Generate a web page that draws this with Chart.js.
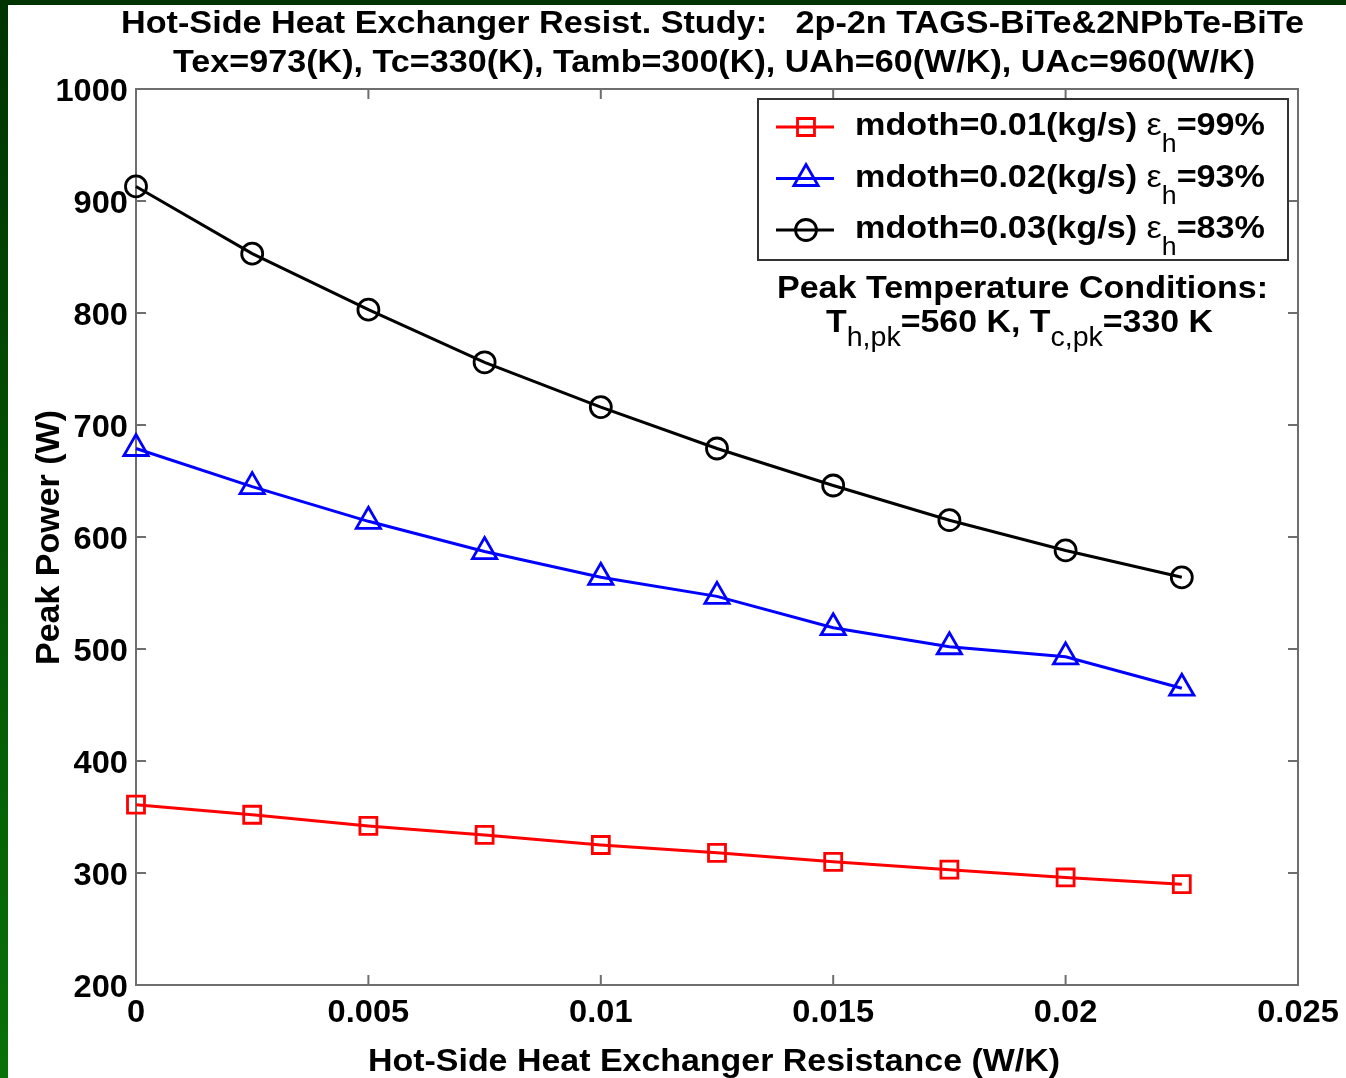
<!DOCTYPE html>
<html>
<head>
<meta charset="utf-8">
<script src="https://cdn.jsdelivr.net/npm/chart.js@4.4.0/dist/chart.umd.min.js"></script>
<style>
  html, body { margin: 0; padding: 0; background: #fff; overflow: hidden; }
  canvas { display: block; }
</style>
</head>
<body>
<canvas id="chart" width="1346" height="1078" style="width:1346px;height:1078px"></canvas>
<script>
// data
const resistance = [0, 0.0025, 0.005, 0.0075, 0.01, 0.0125, 0.015, 0.0175, 0.02, 0.0225];
const power001 = [361, 352, 342, 334, 325, 318, 310, 303, 296, 290];
const power002 = [679, 645, 614, 587, 564, 547, 519, 502, 493, 465];
const power003 = [913, 853, 803, 756, 716, 679, 646, 615, 588, 564];

const seriesLabels = ['mdoth=0.01(kg/s) ', 'mdoth=0.02(kg/s) ', 'mdoth=0.03(kg/s) '];
const effLabels = ['=99%', '=93%', '=83%'];
const xTicks = [0, 0.005, 0.01, 0.015, 0.02, 0.025];
const yTicks = [200, 300, 400, 500, 600, 700, 800, 900, 1000];

const titleLines = [
  'Hot-Side Heat Exchanger Resist. Study:   2p-2n TAGS-BiTe&2NPbTe-BiTe',
  'Tex=973(K), Tc=330(K), Tamb=300(K), UAh=60(W/K), UAc=960(W/K)'
];
const xTitle = 'Hot-Side Heat Exchanger Resistance (W/K)';
const yTitle = 'Peak Power (W)';

const FONT = '"Liberation Sans", Arial, Helvetica, sans-serif';
const bold = s => 'bold ' + s + 'px ' + FONT;
const normal = s => s + 'px ' + FONT;

const fmt = v => String(Number(v.toFixed(4)));

// draws a list of text runs, squeezed/stretched to a target width
function drawRuns(ctx, runs, x, y, width) {
  let total = 0;
  runs.forEach(r => { ctx.font = r.font; r.w = ctx.measureText(r.t).width; total += r.w; });
  ctx.save();
  ctx.translate(x, y);
  ctx.scale(width / total, 1);
  ctx.textAlign = 'left';
  ctx.textBaseline = 'alphabetic';
  ctx.fillStyle = '#000';
  let cx = 0;
  runs.forEach(r => {
    ctx.font = r.font;
    ctx.fillText(r.t, cx, r.dy || 0);
    cx += r.w;
  });
  ctx.restore();
}

function drawMarker(ctx, style, x, y, r, color) {
  ctx.save();
  ctx.strokeStyle = color;
  ctx.lineWidth = 2.8;
  ctx.beginPath();
  if (style === 'rect') {
    const s = r * Math.SQRT1_2;
    ctx.rect(x - s, y - s, 2 * s, 2 * s);
  } else if (style === 'triangle') {
    for (let k = 0; k < 3; k++) {
      const a = k * 2 * Math.PI / 3;
      const px = x + Math.sin(a) * r, py = y - Math.cos(a) * r;
      k ? ctx.lineTo(px, py) : ctx.moveTo(px, py);
    }
    ctx.closePath();
  } else {
    ctx.arc(x, y, r, 0, Math.PI * 2);
  }
  ctx.stroke();
  ctx.restore();
}

const pageBackground = {
  id: 'pageBackground',
  beforeDraw(chart) {
    const ctx = chart.ctx;
    ctx.save();
    ctx.fillStyle = '#fff';
    ctx.fillRect(0, 0, chart.width, chart.height);
    const g = ctx.createLinearGradient(0, 0, 0, chart.height);
    g.addColorStop(0, '#003300');
    g.addColorStop(1, '#087208');
    ctx.fillStyle = g;
    ctx.fillRect(0, 0, 8, chart.height);
    ctx.fillStyle = '#003300';
    ctx.fillRect(0, 0, chart.width, 5);
    ctx.restore();
  }
};

const axesFrame = {
  id: 'axesFrame',
  beforeDatasetsDraw(chart) {
    const ctx = chart.ctx;
    const { left, right, top, bottom } = chart.chartArea;
    const xs = chart.scales.x, ys = chart.scales.y;
    ctx.save();
    ctx.strokeStyle = '#6e6e6e';
    ctx.lineWidth = 2;
    ctx.strokeRect(left, top, right - left, bottom - top);
    ctx.beginPath();
    xTicks.forEach(v => {
      const px = xs.getPixelForValue(v);
      ctx.moveTo(px, bottom); ctx.lineTo(px, bottom - 10);
      ctx.moveTo(px, top); ctx.lineTo(px, top + 10);
    });
    yTicks.forEach(v => {
      const py = ys.getPixelForValue(v);
      ctx.moveTo(left, py); ctx.lineTo(left + 10, py);
      ctx.moveTo(right, py); ctx.lineTo(right - 10, py);
    });
    ctx.stroke();
    ctx.restore();
  },
  afterDraw(chart) {
    const ctx = chart.ctx;
    const { left, right, top, bottom } = chart.chartArea;
    const xs = chart.scales.x, ys = chart.scales.y;
    const SX = 1.02;

    // tick labels
    ctx.save();
    ctx.fillStyle = '#000';
    ctx.font = bold(32);
    ctx.textBaseline = 'alphabetic';
    yTicks.forEach(v => {
      const py = ys.getPixelForValue(v);
      ctx.save();
      ctx.translate(left - 8, py + 12);
      ctx.scale(SX, 1);
      ctx.textAlign = 'right';
      ctx.fillText(String(v), 0, 0);
      ctx.restore();
    });
    xTicks.forEach(v => {
      const px = xs.getPixelForValue(v);
      ctx.save();
      ctx.translate(px, bottom + 37);
      ctx.scale(SX, 1);
      ctx.textAlign = 'center';
      ctx.fillText(fmt(v), 0, 0);
      ctx.restore();
    });
    ctx.restore();

    // titles
    drawRuns(ctx, [{ t: titleLines[0], font: bold(32) }], 121, 33, 1183);
    drawRuns(ctx, [{ t: titleLines[1], font: bold(32) }], 173, 72, 1082);
    drawRuns(ctx, [{ t: xTitle, font: bold(32) }], 368, 1071, 692);
    ctx.save();
    ctx.translate(59, 665);
    ctx.rotate(-Math.PI / 2);
    drawRuns(ctx, [{ t: yTitle, font: bold(34) }], 0, 0, 255);
    ctx.restore();

    // legend
    const box = { x: 758, y: 99, w: 530, h: 161 };
    ctx.save();
    ctx.fillStyle = '#fff';
    ctx.fillRect(box.x, box.y, box.w, box.h);
    ctx.strokeStyle = '#333';
    ctx.lineWidth = 2;
    ctx.strokeRect(box.x, box.y, box.w, box.h);
    ctx.restore();
    chart.data.datasets.forEach((ds, i) => {
      const ly = 127 + i * 51.5;
      ctx.save();
      ctx.strokeStyle = ds.borderColor;
      ctx.lineWidth = 3;
      ctx.beginPath();
      ctx.moveTo(776, ly); ctx.lineTo(834, ly);
      ctx.stroke();
      ctx.restore();
      drawMarker(ctx, ds.pointStyle, 806, ly, ds.pointRadius, ds.borderColor);
      drawRuns(ctx, [
        { t: seriesLabels[i], font: bold(32) },
        { t: 'ε', font: normal(32) },
        { t: 'h', font: normal(25), dy: 17 },
        { t: effLabels[i], font: bold(32) }
      ], 855, ly + 8, 410);
    });

    // peak temperature note
    drawRuns(ctx, [{ t: 'Peak Temperature Conditions:', font: bold(32) }], 777, 298, 491);
    drawRuns(ctx, [
      { t: 'T', font: bold(32) },
      { t: 'h,pk', font: normal(27), dy: 14 },
      { t: '=560 K, T', font: bold(32) },
      { t: 'c,pk', font: normal(27), dy: 14 },
      { t: '=330 K', font: bold(32) }
    ], 826, 332, 387);
  }
};

const toPoints = arr => resistance.map((x, i) => ({ x, y: arr[i] }));

function series(label, values, color, style, radius) {
  return {
    label,
    data: toPoints(values),
    borderColor: color,
    borderWidth: 3,
    pointStyle: style,
    pointRadius: radius,
    pointBorderWidth: 2.8,
    pointBorderColor: color,
    pointBackgroundColor: 'rgba(0,0,0,0)',
    tension: 0,
    clip: false
  };
}

new Chart(document.getElementById('chart'), {
  type: 'line',
  data: {
    datasets: [
      series(seriesLabels[0], power001, '#ff0000', 'rect', 12),
      series(seriesLabels[1], power002, '#0000ff', 'triangle', 14),
      series(seriesLabels[2], power003, '#000000', 'circle', 10.5)
    ]
  },
  options: {
    responsive: false,
    devicePixelRatio: 1,
    animation: false,
    events: [],
    layout: { padding: { left: 0, top: 89, right: 48, bottom: 0 } },
    plugins: { legend: { display: false }, tooltip: { enabled: false }, title: { display: false } },
    scales: {
      x: {
        type: 'linear',
        min: 0,
        max: 0.025,
        ticks: { display: false, stepSize: 0.005 },
        grid: { display: false },
        border: { display: false },
        afterFit: s => { s.height = 93; }
      },
      y: {
        min: 200,
        max: 1000,
        ticks: { display: false, stepSize: 100 },
        grid: { display: false },
        border: { display: false },
        afterFit: s => { s.width = 136; }
      }
    }
  },
  plugins: [pageBackground, axesFrame]
});
</script>
</body>
</html>
